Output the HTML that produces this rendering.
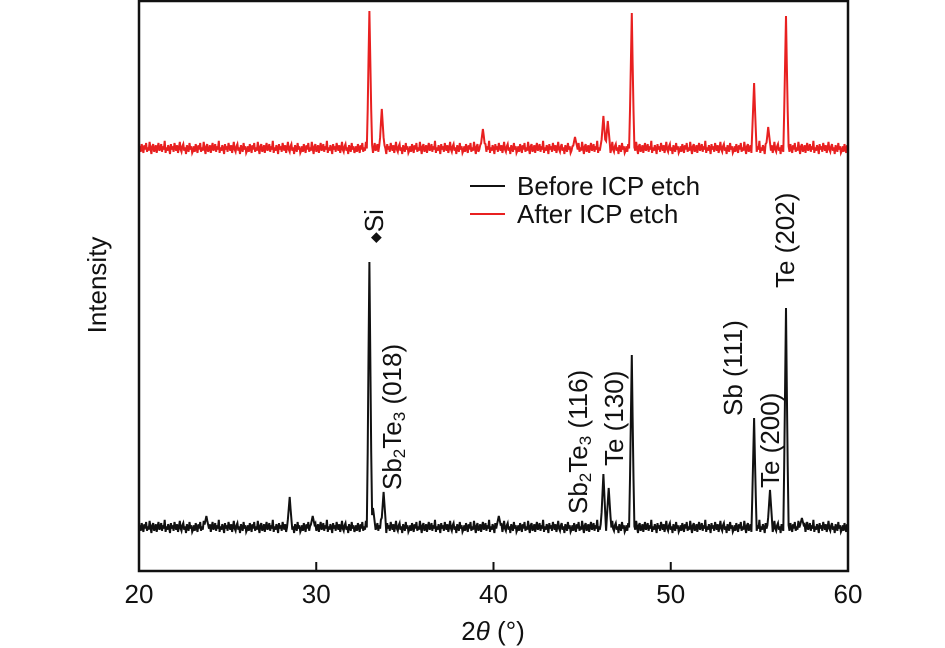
<!DOCTYPE html>
<html><head><meta charset="utf-8"><style>
html,body{margin:0;padding:0;background:#fff}
svg{display:block}
text{font-family:"Liberation Sans",sans-serif;fill:#111}
</style></head><body>
<svg id="chart" width="945" height="648" viewBox="0 0 945 648" xmlns="http://www.w3.org/2000/svg">
<g id="plot"></g>
<rect x="139" y="1" width="709" height="570" fill="none" stroke="#111" stroke-width="2.5"/>
<g id="ticks"></g>
<text x="493" y="640" font-size="26" text-anchor="middle">2<tspan font-style="italic">θ</tspan> (°)</text>
<text transform="translate(106,285) rotate(-90)" font-size="26" text-anchor="middle">Intensity</text>
<g>
<line x1="470" y1="186" x2="505" y2="186" stroke="#111" stroke-width="2"/>
<text x="517" y="195" font-size="26">Before ICP etch</text>
<line x1="470" y1="214" x2="505" y2="214" stroke="#e82020" stroke-width="2"/>
<text x="517" y="223" font-size="26">After ICP etch</text>
</g>
<g font-size="26">
<text transform="translate(383,243) rotate(-90)"><tspan font-size="14" dy="-3">◆</tspan><tspan dy="3">Si</tspan></text>
<text transform="translate(401,490) rotate(-90)">Sb<tspan font-size="17" dy="4">2</tspan><tspan dy="-4">Te</tspan><tspan font-size="17" dy="4">3</tspan><tspan dy="-4"> (018)</tspan></text>
<text transform="translate(587,514) rotate(-90)">Sb<tspan font-size="17" dy="4">2</tspan><tspan dy="-4">Te</tspan><tspan font-size="17" dy="4">3</tspan><tspan dy="-4"> (116)</tspan></text>
<text transform="translate(623,466) rotate(-90)">Te (130)</text>
<text transform="translate(742,416) rotate(-90)">Sb (111)</text>
<text transform="translate(779,488) rotate(-90)">Te (200)</text>
<text transform="translate(794,288) rotate(-90)">Te (202)</text>
</g>
</svg>
<script>
const xTicks=[20,30,40,50,60];
const blackPeakPos=[23.8,28.5,29.8,33.0,33.2,33.8,40.3,46.2,46.5,47.8,54.7,55.6,56.5,57.4];
const blackPeakHeight=[12,31,12,266,20,36,12,54,40,173,110,38,220,10];
const redPeakPos=[33.0,33.7,39.4,44.6,46.2,46.45,47.8,54.7,55.5,56.5];
const redPeakHeight=[138,40,20,12,33,28,136,66,22,133];
const noise=[3,7,2,9,5,1,8,4,10,2,6,3,11,5,0,7,9,2,4,8,1,6,10,3,5,9,2,7,4,12,1,6,3,8,5,0,9,4,7,2,10,6,3,8,1,5,11,4,2,7,9,3,6,0,8,5,2,10,4,7,1];
const blackBase=38, redBase=417;
const X=v=>139+(v-20)*(709/40);
const Y=v=>571-v;
function series(pos,h,base){
  const pts=[];let k=0;
  for(let x=20;x<=60.0001;x+=0.05,k++){
    let v=base+noise[k%noise.length]*1.1;
    for(let i=0;i<pos.length;i++){const d=Math.abs(x-pos[i]);if(d<0.14)v=Math.max(v,base+5+h[i]*(1-d/0.14));}
    pts.push(X(x).toFixed(1)+','+Y(v).toFixed(1));
  }
  return pts.join(' ');
}
const ns='http://www.w3.org/2000/svg',plot=document.getElementById('plot');
const r=document.createElementNS(ns,'polyline');


r.setAttribute('points',series(redPeakPos,redPeakHeight,redBase));
r.setAttribute('fill','none');r.setAttribute('stroke','#e82020');r.setAttribute('stroke-width','2');
plot.appendChild(r);
const b=document.createElementNS(ns,'polyline');


b.setAttribute('points',series(blackPeakPos,blackPeakHeight,blackBase));
b.setAttribute('fill','none');b.setAttribute('stroke','#111');b.setAttribute('stroke-width','2');
plot.appendChild(b);
const tg=document.getElementById('ticks');
xTicks.forEach(t=>{
  const l=document.createElementNS(ns,'line');
  
  
  l.setAttribute('x1',X(t));l.setAttribute('x2',X(t));l.setAttribute('y1',571);l.setAttribute('y2',562);
  l.setAttribute('stroke','#111');l.setAttribute('stroke-width','2');tg.appendChild(l);
  const tx=document.createElementNS(ns,'text');
  
  
  tx.setAttribute('x',X(t));tx.setAttribute('y',603);tx.setAttribute('font-size','26');tx.setAttribute('text-anchor','middle');
  tx.textContent=t;tg.appendChild(tx);
});
</script>
</body></html>
